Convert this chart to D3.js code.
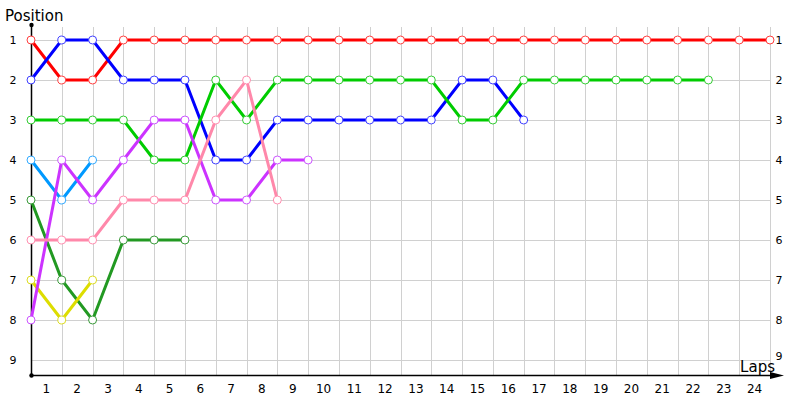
<!DOCTYPE html>
<html>
<head>
<meta charset="utf-8">
<script src="https://cdn.jsdelivr.net/npm/d3@7"></script>
<style>
  body { margin: 0; background: #fff; }
  text { font-family: "DejaVu Sans", Verdana, sans-serif; }
</style>
</head>
<body>
<div id="chart"></div>
<script>
// positions per lap, index 0 = start
var laps = d3.range(1, 25);
var positions = [1, 2, 3, 4, 5, 6, 7, 8, 9];

var redPos = [1,2,2,1,1,1,1,1,1,1,1,1,1,1,1,1,1,1,1,1,1,1,1,1,1];
var bluePos = [2,1,1,2,2,2,4,4,3,3,3,3,3,3,2,2,3];
var greenPos = [3,3,3,3,4,4,2,3,2,2,2,2,2,2,3,3,2,2,2,2,2,2,2];
var skyPos = [4,5,4];
var purplePos = [8,4,5,4,3,3,5,5,4,4];
var darkGreenPos = [5,7,8,6,6,6];
var yellowPos = [7,8,7];
var pinkPos = [6,6,6,5,5,5,3,2,5];

var series = [
  {name: "red", values: redPos, color: "#ff0000", marker: "#ff4040"},
  {name: "blue", values: bluePos, color: "#0000ff", marker: "#4040ff"},
  {name: "green", values: greenPos, color: "#00cc00", marker: "#33cc33"},
  {name: "sky", values: skyPos, color: "#0099ff", marker: "#33aaff"},
  {name: "darkgreen", values: darkGreenPos, color: "#229922", marker: "#3a9a3a"},
  {name: "yellow", values: yellowPos, color: "#dddd00", marker: "#dddd22"},
  {name: "purple", values: purplePos, color: "#cc33ff", marker: "#cc55ff"},
  {name: "pink", values: pinkPos, color: "#ff88aa", marker: "#ff8fb0"}
];

var width = 800, height = 400;
var svg = d3.select("#chart").append("svg")
  .attr("width", width)
  .attr("height", height);

var x = d3.scaleLinear().domain([0, 24]).range([31, 770]);
var y = d3.scaleLinear().domain([1, 9]).range([40, 360]);
var baseY = 375;

// grid
var grid = svg.append("g").attr("stroke", "#d0d0d0").attr("stroke-width", 1);
grid.selectAll(".vg")
  .data(d3.range(0, 25))
  .enter().append("line")
    .attr("x1", function(d){ return Math.round(x(d)) + 0.5; })
    .attr("x2", function(d){ return Math.round(x(d)) + 0.5; })
    .attr("y1", 27)
    .attr("y2", baseY);
grid.selectAll(".hg")
  .data(positions)
  .enter().append("line")
    .attr("x1", x(0))
    .attr("x2", x(24))
    .attr("y1", function(d){ return y(d) + 0.5; })
    .attr("y2", function(d){ return y(d) + 0.5; });

// axes
svg.append("line")
  .attr("x1", 31.5).attr("x2", 31.5)
  .attr("y1", 25).attr("y2", baseY)
  .attr("stroke", "#000").attr("stroke-width", 1.5);
svg.append("line")
  .attr("x1", 31).attr("x2", 778)
  .attr("y1", baseY + 0.5).attr("y2", baseY + 0.5)
  .attr("stroke", "#000").attr("stroke-width", 1.5);
svg.append("path")
  .attr("d", "M770,372 L784,375.5 L770,379 Z")
  .attr("fill", "#000");
svg.append("circle").attr("cx", 31.5).attr("cy", 25).attr("r", 2.2).attr("fill", "#000");
svg.append("circle").attr("cx", 31.5).attr("cy", baseY + 0.5).attr("r", 2.2).attr("fill", "#000");

// y labels both sides
svg.selectAll(".yl")
  .data(positions)
  .enter().append("text")
    .attr("x", 13)
    .attr("y", function(d){ return y(d) + 4; })
    .attr("text-anchor", "middle")
    .attr("font-size", 11)
    .text(function(d){ return d; });
svg.selectAll(".yr")
  .data(positions)
  .enter().append("text")
    .attr("x", 779)
    .attr("y", function(d){ return y(d) + 4 - (d === 9 ? 4 : 0); })
    .attr("text-anchor", "middle")
    .attr("font-size", 11)
    .text(function(d){ return d; });

// x labels centred in each lap
svg.selectAll(".xl")
  .data(laps)
  .enter().append("text")
    .attr("x", function(d){ return x(d - 0.5); })
    .attr("y", 393)
    .attr("text-anchor", "middle")
    .attr("font-size", 12)
    .text(function(d){ return d; });

svg.append("text")
  .attr("x", 5).attr("y", 21)
  .attr("font-size", 15)
  .text("Position");
svg.append("text")
  .attr("x", 775).attr("y", 372)
  .attr("text-anchor", "end")
  .attr("font-size", 15)
  .text("Laps");

// lines
var line = d3.line()
  .x(function(d, i){ return x(i); })
  .y(function(d){ return y(d); });

var g = svg.append("g");
series.forEach(function(s){
  g.append("path")
    .attr("d", line(s.values))
    .attr("fill", "none")
    .attr("stroke", s.color)
    .attr("stroke-width", 3);
});
series.forEach(function(s){
  g.selectAll(".m-" + s.name)
    .data(s.values)
    .enter().append("circle")
      .attr("cx", function(d, i){ return x(i); })
      .attr("cy", function(d){ return y(d); })
      .attr("r", 4)
      .attr("fill", "#fff")
      .attr("stroke", s.marker)
      .attr("stroke-width", 1);
});
</script>
</body>
</html>
